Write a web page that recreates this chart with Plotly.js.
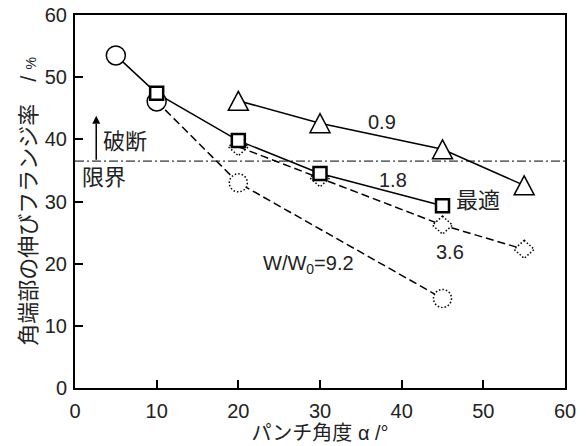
<!DOCTYPE html>
<html><head><meta charset="utf-8">
<script src="https://cdn.plot.ly/plotly-3.0.1.min.js"></script>
<style>html,body{margin:0;padding:0;background:#fff}#chart{width:586px;height:446px}</style>
</head><body><div id="chart"></div>
<script>
// punch angle α (°) vs corner-edge stretch-flange ratio (%), per W/W0
const angle09 = [20, 30, 45, 55];
const ratio09 = [46.2, 42.6, 38.4, 32.6];
const angle18 = [5, 10, 20, 30, 45];
const ratio18 = [53.5, 47.4, 39.8, 34.5, 29.3];
const angle36 = [20, 30, 45, 55];
const ratio36 = [38.8, 33.8, 26.2, 22.3];
const angle92 = [10, 20, 45];
const ratio92 = [46.1, 33.0, 14.4];
const fractureLimit = 36.5;
const seriesLabels = ['0.9', '1.8', '3.6', 'W/W<sub>0</sub>=9.2'];
const xTickVals = [0, 10, 20, 30, 40, 50, 60];
const yTickVals = [0, 10, 20, 30, 40, 50, 60];

const FONT = 'Liberation Sans, Arial, Noto Sans CJK JP, sans-serif';
const TXT = '#222';
const BLACK = '#000000';

const traces = [
  // connecting lines
  { x: angle36, y: ratio36, mode: 'lines', line: {color: BLACK, width: 1.5, dash: '8px,4px'} },
  { x: angle92, y: ratio92, mode: 'lines', line: {color: BLACK, width: 1.5, dash: '8px,4px'} },
  { x: angle18, y: ratio18, mode: 'lines', line: {color: BLACK, width: 1.5} },
  { x: angle09, y: ratio09, mode: 'lines', line: {color: BLACK, width: 1.5} },
  // open circles (solid outline)
  { x: [angle18[0], angle92[0]], y: [ratio18[0], ratio92[0]], mode: 'markers',
    marker: {symbol: 'circle', size: 19, color: '#ffffff', line: {color: BLACK, width: 1.5}} },
  // W/W0 = 1.8 (optimum) : squares
  { x: angle18.slice(1), y: ratio18.slice(1), mode: 'markers',
    marker: {symbol: 'square', size: 13, color: '#ffffff', line: {color: BLACK, width: 2.5}} },
  // fracture arrow (shaft + head)
  { x: [2.6, 2.6], y: [fractureLimit + 0.2, 42.5], mode: 'lines', line: {color: BLACK, width: 1.5} },
  { x: [2.6], y: [43.8], mode: 'markers', marker: {symbol: 'arrow-up', size: 8, color: BLACK, line: {width: 0}} }
];

const pixelShape = (type, x, y, extra) => Object.assign({
  type, xref: 'x', yref: 'y', xsizemode: 'pixel', ysizemode: 'pixel', xanchor: x, yanchor: y
}, extra);

const dotLine = {color: BLACK, width: 1.5, dash: '1.5px,2px'};
const shapes = [];
// dotted diamonds for W/W0 = 3.6
angle36.forEach((a, i) => shapes.push(pixelShape('path', a, ratio36[i], {
  path: 'M0,9L10,0L0,-9L-10,0Z', line: dotLine, fillcolor: '#ffffff', layer: a < 40 ? 'below' : 'above'
})));
// dotted circles for W/W0 = 9.2
angle92.forEach((a, i) => { if (i > 0) shapes.push(pixelShape('circle', a, ratio92[i], {
  x0: -9, x1: 9, y0: -9, y1: 9, line: dotLine, fillcolor: '#ffffff', layer: 'above'
})); });
// triangles for W/W0 = 0.9
angle09.forEach((a, i) => shapes.push(pixelShape('path', a, ratio09[i], {
  path: 'M-10,-9.5L10,-9.5L0,9.5Z', line: {color: BLACK, width: 1.5}, fillcolor: '#ffffff', layer: 'above'
})));
// fracture limit line
shapes.push({ type: 'line', xref: 'paper', yref: 'y', x0: 0, x1: 1, y0: fractureLimit, y1: fractureLimit,
  line: {color: BLACK, width: 1, dash: '9px,3px,2px,3px'}, layer: 'below' });

const ann = (text, x, y, size) => ({ text, x, y, xref: 'x', yref: 'y', showarrow: false,
  xanchor: 'center', yanchor: 'middle', font: {family: FONT, size: size, color: TXT} });

const annotations = [
  ann(seriesLabels[0], 37.6, 42.8, 20),
  ann(seriesLabels[1], 38.9, 33.4, 20),
  ann(seriesLabels[2], 45.9, 21.8, 20),
  ann(seriesLabels[3], 28.6, 19.9, 20),
  ann('最適', 49.4, 30.2, 22),
  ann('破断', 6.1, 39.7, 22),
  ann('限界', 3.6, 33.8, 22)
];

const axisCommon = {
  showgrid: false, zeroline: false, showline: true, linecolor: BLACK, linewidth: 2, mirror: true,
  ticks: 'inside', ticklen: 8, tickwidth: 2, tickcolor: BLACK,
  tickfont: {family: FONT, size: 20, color: TXT}, fixedrange: true
};

const layout = {
  width: 586, height: 446,
  margin: {l: 75, r: 21, t: 15, b: 58},
  paper_bgcolor: '#ffffff', plot_bgcolor: '#ffffff',
  showlegend: false,
  font: {family: FONT, color: TXT},
  xaxis: Object.assign({}, axisCommon, {
    range: [0, 60], tickvals: xTickVals, ticklabelstandoff: 4,
    title: {text: 'パンチ角度\u00a0α\u00a0/°', font: {family: FONT, size: 20, color: TXT}, standoff: 1}
  }),
  yaxis: Object.assign({}, axisCommon, {
    range: [0, 60], tickvals: yTickVals, ticklabelstandoff: 2,
    title: {text: '角端部の伸びフランジ率　/ <span style="font-size:14px">%</span>', font: {family: FONT, size: 22, color: TXT}, standoff: 2}
  }),
  shapes, annotations
};

Plotly.newPlot('chart', traces, layout, {displayModeBar: false, staticPlot: true});
</script></body></html>
